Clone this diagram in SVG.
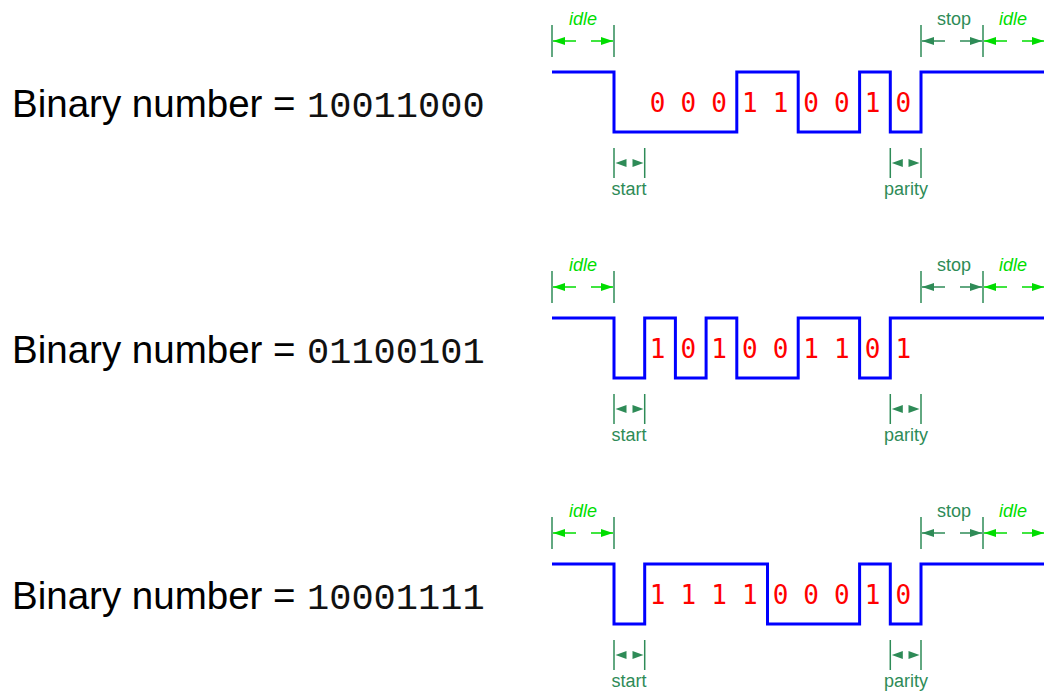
<svg xmlns="http://www.w3.org/2000/svg" xmlns:xlink="http://www.w3.org/1999/xlink" width="1044" height="691" viewBox="0 0 1044 691">
<style>
.lbl{font-family:"Liberation Sans",Arial,sans-serif;font-size:38.5px;fill:#000}
.num{font-family:"Liberation Mono","Courier New",monospace;font-size:37px;fill:#111}
.wave{fill:none;stroke:#0000ff;stroke-width:3;stroke-linejoin:miter}
.bit{font-family:"DejaVu Sans Mono",monospace;font-size:26px;fill:#ff0000;text-anchor:middle}
.tick{stroke:#2e8b57;stroke-width:1.5}
.sg{stroke:#2e8b57;stroke-width:1.5;fill:none}
.br{stroke:#00dd00;stroke-width:1.5;fill:none}
.tsg{font-family:"Liberation Sans",Arial,sans-serif;font-size:18px;fill:#2e8b57;text-anchor:middle}
.tbr{font-family:"Liberation Sans",Arial,sans-serif;font-size:18px;fill:#00dd00;text-anchor:middle;font-style:italic}
.hsg{fill:#2e8b57}
</style>
<defs>
<marker id="aSg" markerUnits="userSpaceOnUse" markerWidth="12" markerHeight="8" refX="12" refY="4" orient="auto"><path d="M0,0 L12,4 L0,8 Z" fill="#2e8b57"/></marker>
<marker id="aBr" markerUnits="userSpaceOnUse" markerWidth="12" markerHeight="8" refX="12" refY="4" orient="auto"><path d="M0,0 L12,4 L0,8 Z" fill="#00dd00"/></marker>
<path id="hL" d="M0,0 L11,-4 L11,4 Z"/>
<path id="hR" d="M0,0 L-11,-4 L-11,4 Z"/>
<g id="markers">
<line class="tick" x1="552" y1="25" x2="552" y2="57"/>
<line class="tick" x1="614" y1="25" x2="614" y2="57"/>
<line class="br" x1="576" y1="41" x2="553" y2="41" marker-end="url(#aBr)"/>
<line class="br" x1="591" y1="41" x2="613" y2="41" marker-end="url(#aBr)"/>
<text class="tbr" x="583" y="25">idle</text>
<line class="tick" x1="921" y1="25" x2="921" y2="57"/>
<line class="tick" x1="983" y1="25" x2="983" y2="57"/>
<line class="sg" x1="945" y1="41" x2="922" y2="41" marker-end="url(#aSg)"/>
<line class="sg" x1="960" y1="41" x2="982" y2="41" marker-end="url(#aSg)"/>
<text class="tsg" x="954" y="25">stop</text>
<line class="br" x1="1007" y1="41" x2="984" y2="41" marker-end="url(#aBr)"/>
<line class="br" x1="1022" y1="41" x2="1044" y2="41" marker-end="url(#aBr)"/>
<text class="tbr" x="1013" y="25">idle</text>
<line class="tick" x1="614" y1="148" x2="614" y2="178"/>
<line class="tick" x1="644.7" y1="148" x2="644.7" y2="178"/>
<use href="#hL" xlink:href="#hL" class="hsg" x="615.5" y="163"/>
<use href="#hR" xlink:href="#hR" class="hsg" x="643.5" y="163"/>
<text class="tsg" x="629" y="195">start</text>
<line class="tick" x1="890.3" y1="148" x2="890.3" y2="178"/>
<line class="tick" x1="921" y1="148" x2="921" y2="178"/>
<use href="#hL" xlink:href="#hL" class="hsg" x="891.8" y="163"/>
<use href="#hR" xlink:href="#hR" class="hsg" x="919.5" y="163"/>
<text class="tsg" x="906" y="195">parity</text>
</g>
</defs>

<g id="row1">
<text class="lbl" x="12" y="117">Binary number =</text>
<text class="num" x="307" y="117">10011000</text>
<g id="row1-connectors"><path class="wave" d="M552,72 H614 V132 H736.8 V72 H798.2 V132 H859.6 V72 H890.3 V132 H921 V72 H1044"/></g>
<g id="row1-bits">
<text class="bit" x="657.7" y="112">0</text><text class="bit" x="688.4" y="112">0</text><text class="bit" x="719.1" y="112">0</text><text class="bit" x="749.8" y="112">1</text><text class="bit" x="780.5" y="112">1</text><text class="bit" x="811.2" y="112">0</text><text class="bit" x="841.9" y="112">0</text><text class="bit" x="872.6" y="112">1</text><text class="bit" x="903.3" y="112">0</text>
</g>
<use href="#markers" xlink:href="#markers"/>
</g>

<g id="row2" transform="translate(0,246)">
<text class="lbl" x="12" y="117">Binary number =</text>
<text class="num" x="307" y="117">01100101</text>
<g id="row2-connectors"><path class="wave" d="M552,72 H614 V132 H644.7 V72 H675.4 V132 H706.1 V72 H736.8 V132 H798.2 V72 H859.6 V132 H890.3 V72 H1044"/></g>
<g id="row2-bits">
<text class="bit" x="657.7" y="112">1</text><text class="bit" x="688.4" y="112">0</text><text class="bit" x="719.1" y="112">1</text><text class="bit" x="749.8" y="112">0</text><text class="bit" x="780.5" y="112">0</text><text class="bit" x="811.2" y="112">1</text><text class="bit" x="841.9" y="112">1</text><text class="bit" x="872.6" y="112">0</text><text class="bit" x="903.3" y="112">1</text>
</g>
<use href="#markers" xlink:href="#markers"/>
</g>

<g id="row3" transform="translate(0,492)">
<text class="lbl" x="12" y="117">Binary number =</text>
<text class="num" x="307" y="117">10001111</text>
<g id="row3-connectors"><path class="wave" d="M552,72 H614 V132 H644.7 V72 H767.5 V132 H859.6 V72 H890.3 V132 H921 V72 H1044"/></g>
<g id="row3-bits">
<text class="bit" x="657.7" y="112">1</text><text class="bit" x="688.4" y="112">1</text><text class="bit" x="719.1" y="112">1</text><text class="bit" x="749.8" y="112">1</text><text class="bit" x="780.5" y="112">0</text><text class="bit" x="811.2" y="112">0</text><text class="bit" x="841.9" y="112">0</text><text class="bit" x="872.6" y="112">1</text><text class="bit" x="903.3" y="112">0</text>
</g>
<use href="#markers" xlink:href="#markers"/>
</g>
</svg>
